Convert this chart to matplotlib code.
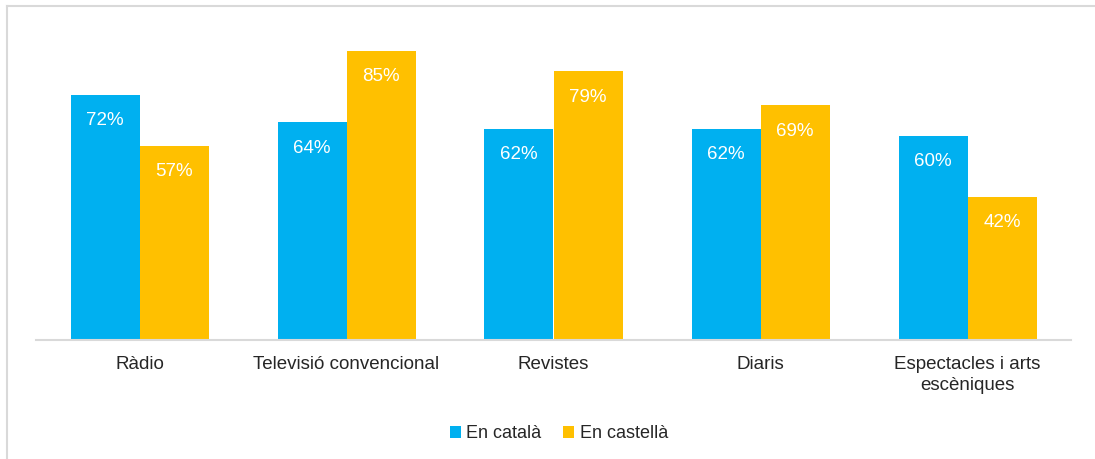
import matplotlib
matplotlib.use("Agg")
import matplotlib.pyplot as plt
import numpy as np
from matplotlib.lines import Line2D
from matplotlib.patches import Patch

plt.rcParams['font.family'] = ['Liberation Sans', 'DejaVu Sans']

categories = ["Ràdio", "Televisió convencional", "Revistes", "Diaris", "Espectacles i arts\nescèniques"]
catala = [72, 64, 62, 62, 60]
castella = [57, 85, 79, 69, 42]
series_names = ["En català", "En castellà"]
colors = ["#00B0F0", "#FFC000"]

W, H = 1095, 459
fig = plt.figure(figsize=(W / 100, H / 100), dpi=100)

# frame lines (top and left)
fig.add_artist(Line2D([6.5 / W, 6.5 / W], [0, 1 - 5.5 / H], transform=fig.transFigure, color="#D9D9D9", lw=1.5))
fig.add_artist(Line2D([6.5 / W, 1], [1 - 5.5 / H, 1 - 5.5 / H], transform=fig.transFigure, color="#D9D9D9", lw=1.5))

left, right, bottom, top = 36, 1071, 340, 34
ax = fig.add_axes([left / W, 1 - bottom / H, (right - left) / W, (bottom - top) / H])
ax.set_xlim(-0.5, len(categories) - 0.5)
ax.set_ylim(0, 90)

x = np.arange(len(categories))
bw = 1 / 3
b1 = ax.bar(x - bw / 2, catala, width=bw, color=colors[0], label=series_names[0])
b2 = ax.bar(x + bw / 2, castella, width=bw, color=colors[1], label=series_names[1])

for bars, vals in ((b1, catala), (b2, castella)):
    for rect, v in zip(bars, vals):
        ax.annotate(f"{v}%", (rect.get_x() + rect.get_width() / 2, v),
                    xytext=(0, -18.5), textcoords="offset points",
                    ha="center", va="center", color="white", fontsize=13.5)

for s in ["top", "right", "left"]:
    ax.spines[s].set_visible(False)
ax.spines["bottom"].set_color("#D9D9D9")
ax.spines["bottom"].set_linewidth(1.5)
ax.set_yticks([])
ax.set_xticks(x)
ax.set_xticklabels(categories, fontsize=13.5, color="#262626", linespacing=1.3, va="top")
ax.tick_params(axis="x", length=0, pad=11.5)

handles = [Patch(facecolor=colors[0]), Patch(facecolor=colors[1])]
fig.legend(handles, series_names, loc="center", bbox_to_anchor=(559 / W, 1 - 434 / H),
           ncol=2, frameon=False, fontsize=13, handlelength=0.6, handleheight=0.6,
           handletextpad=0.3, columnspacing=1.2, labelcolor="#262626")

fig.savefig("out.png", dpi=100)
